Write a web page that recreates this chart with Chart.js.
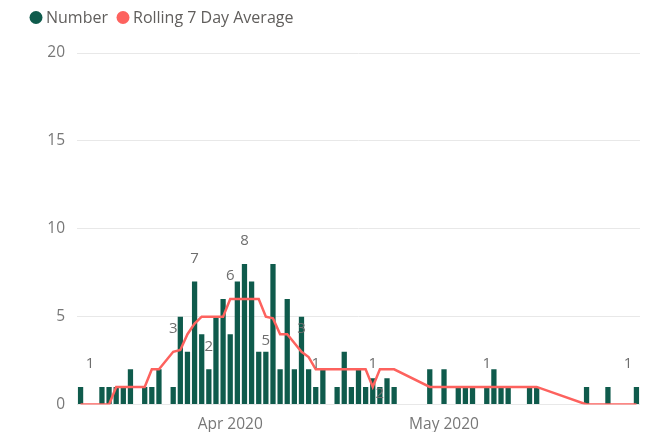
<!DOCTYPE html>
<html>
<head>
<meta charset="utf-8">
<script src="https://cdn.jsdelivr.net/npm/chart.js@4/dist/chart.umd.min.js"></script>
<style>
  html, body { margin: 0; padding: 0; background: #ffffff; }
  #wrap { width: 645px; height: 432px; }
</style>
</head>
<body>
<div id="wrap"><canvas id="chart" width="645" height="432"></canvas></div>
<script>
// Daily dates, 11 Mar – 28 May 2020
const dates = [
  '2020-03-11','2020-03-12','2020-03-13','2020-03-14','2020-03-15','2020-03-16','2020-03-17',
  '2020-03-18','2020-03-19','2020-03-20','2020-03-21','2020-03-22','2020-03-23','2020-03-24',
  '2020-03-25','2020-03-26','2020-03-27','2020-03-28','2020-03-29','2020-03-30','2020-03-31',
  '2020-04-01','2020-04-02','2020-04-03','2020-04-04','2020-04-05','2020-04-06','2020-04-07',
  '2020-04-08','2020-04-09','2020-04-10','2020-04-11','2020-04-12','2020-04-13','2020-04-14',
  '2020-04-15','2020-04-16','2020-04-17','2020-04-18','2020-04-19','2020-04-20','2020-04-21',
  '2020-04-22','2020-04-23','2020-04-24','2020-04-25','2020-04-26','2020-04-27','2020-04-28',
  '2020-04-29','2020-04-30','2020-05-01','2020-05-02','2020-05-03','2020-05-04','2020-05-05',
  '2020-05-06','2020-05-07','2020-05-08','2020-05-09','2020-05-10','2020-05-11','2020-05-12',
  '2020-05-13','2020-05-14','2020-05-15','2020-05-16','2020-05-17','2020-05-18','2020-05-19',
  '2020-05-20','2020-05-21','2020-05-22','2020-05-23','2020-05-24','2020-05-25','2020-05-26',
  '2020-05-27','2020-05-28'
];

// Daily count (null = no record that day)
const dailyNumber = [
  1, null, null, 1, 1, 1, 1,
  2, null, 1, 1, 2, null, 1,
  5, 3, 7, 4, 2, 5, 6,
  4, 7, 8, 7, 3, 3, 8,
  2, 6, 2, 5, 2, 1, 2,
  null, 1, 3, 1, 2, 1, 1.5,
  1, 1.5, 1, null, null, null, null,
  2, null, 2, null, 1, 1, 1,
  null, 1, 2, 1, 1, null, null,
  1, 1, null, null, null, null, null,
  null, 1, null, null, 1, null, null,
  null, 1
];

// Rolling 7 day average (null = no value, line is joined across)
const rolling7DayAverage = [
  0, 0, 0, 0, 0, 1, 1,
  1, 1, 1, 2, 2, null, 3,
  3.1, 4, 4.6, 5, 5, 5, 5,
  6, 6, 6, 6, 6, 5, 4.9,
  4, 4, 3.5, 3, 2.7, 2, 2,
  2, 2, 2, 2, 2, 2, 1,
  2, 2, 2, null, null, null, null,
  1, 1, 1, 1, 1, 1, 1,
  1, 1, 1, 1, 1, 1, 1,
  1, 1, null, null, null, null, null,
  null, 0, 0, 0, 0, 0, 0,
  0, 0
];

// Days carrying a data label
const numberLabelDates = ['2020-03-11','2020-03-27','2020-03-29','2020-04-03','2020-04-13','2020-05-28'];
const averageLabelDates = ['2020-03-24','2020-04-01','2020-04-06','2020-04-11','2020-04-21','2020-04-22','2020-05-07'];
const averageLabelsBelow = ['2020-04-06','2020-04-22'];

// Axis ticks
const monthTickDates = ['2020-04-01','2020-05-01'];
const monthTickLabels = ['Apr 2020','May 2020'];
const yTicks = [0, 5, 10, 15, 20];

const BAR_COLOR = '#0f5b4c';
const LINE_COLOR = '#fd625e';
const FONT = '"Open Sans", "Noto Sans", sans-serif';

// Data labels above (or below) marks, kept inside the plot area
const dataLabels = {
  id: 'dataLabels',
  afterDatasetsDraw(chart) {
    const ctx = chart.ctx;
    const area = chart.chartArea;
    ctx.save();
    ctx.font = '15px ' + FONT;
    ctx.fillStyle = '#6e6e6e';
    ctx.textAlign = 'center';
    ctx.textBaseline = 'middle';
    const put = (text, x, y) => {
      const cx = Math.min(Math.max(x, area.left + 13), area.right - 12);
      ctx.fillText(text, cx, y);
    };
    const barMeta = chart.getDatasetMeta(0);
    numberLabelDates.forEach(d => {
      const i = dates.indexOf(d);
      const el = barMeta.data[i];
      if (el && dailyNumber[i] != null) put(String(dailyNumber[i]), el.x, el.y - 23);
    });
    const lineMeta = chart.getDatasetMeta(1);
    averageLabelDates.forEach(d => {
      const i = dates.indexOf(d);
      const el = lineMeta.data[i];
      if (!el || rolling7DayAverage[i] == null) return;
      const below = averageLabelsBelow.includes(d);
      put(String(Math.round(rolling7DayAverage[i])), el.x, below ? el.y + 24 : el.y - 23);
    });
    ctx.restore();
  }
};

// Legend row with round markers
const legendRow = {
  id: 'legendRow',
  afterDraw(chart) {
    const ctx = chart.ctx;
    const items = [
      { text: chart.data.datasets[0].label, color: BAR_COLOR, cx: 36, tx: 46 },
      { text: chart.data.datasets[1].label, color: LINE_COLOR, cx: 123, tx: 133 }
    ];
    ctx.save();
    ctx.font = '16px ' + FONT;
    ctx.textBaseline = 'middle';
    ctx.textAlign = 'left';
    items.forEach(it => {
      ctx.beginPath();
      ctx.arc(it.cx, 17.5, 6.5, 0, Math.PI * 2);
      ctx.fillStyle = it.color;
      ctx.fill();
      ctx.fillStyle = '#605e5c';
      ctx.fillText(it.text, it.tx, 18);
    });
    ctx.restore();
  }
};

new Chart(document.getElementById('chart'), {
  type: 'bar',
  data: {
    labels: dates,
    datasets: [
      {
        type: 'bar',
        label: 'Number',
        data: dailyNumber,
        backgroundColor: BAR_COLOR,
        barPercentage: 0.74,
        categoryPercentage: 1,
        order: 2
      },
      {
        type: 'line',
        label: 'Rolling 7 Day Average',
        data: rolling7DayAverage,
        borderColor: LINE_COLOR,
        backgroundColor: LINE_COLOR,
        borderWidth: 2.5,
        pointRadius: 0,
        pointHoverRadius: 0,
        tension: 0,
        spanGaps: true,
        order: 1
      }
    ]
  },
  options: {
    responsive: false,
    animation: false,
    devicePixelRatio: 1,
    layout: { padding: { top: 53, left: 0, right: 5, bottom: 0 } },
    plugins: {
      legend: { display: false },
      tooltip: { enabled: false }
    },
    scales: {
      x: {
        type: 'category',
        offset: true,
        grid: { display: false },
        border: { display: false },
        ticks: {
          autoSkip: false,
          maxRotation: 0,
          padding: 3,
          color: '#777777',
          font: { family: FONT, size: 15.5 },
          callback: (value, index) => {
            const k = monthTickDates.indexOf(dates[index]);
            return k >= 0 ? monthTickLabels[k] : '';
          }
        },
        afterFit: s => { s.height = 27.5; }
      },
      y: {
        min: yTicks[0],
        max: yTicks[yTicks.length - 1],
        afterBuildTicks: s => { s.ticks = yTicks.map(v => ({ value: v })); },
        grid: { color: '#e8e8e8', drawTicks: false, lineWidth: 1 },
        border: { display: false },
        ticks: {
          padding: 12,
          color: '#777777',
          font: { family: FONT, size: 15.5 }
        },
        afterFit: s => { s.width = 77; }
      }
    }
  },
  plugins: [dataLabels, legendRow]
});
</script>
</body>
</html>
